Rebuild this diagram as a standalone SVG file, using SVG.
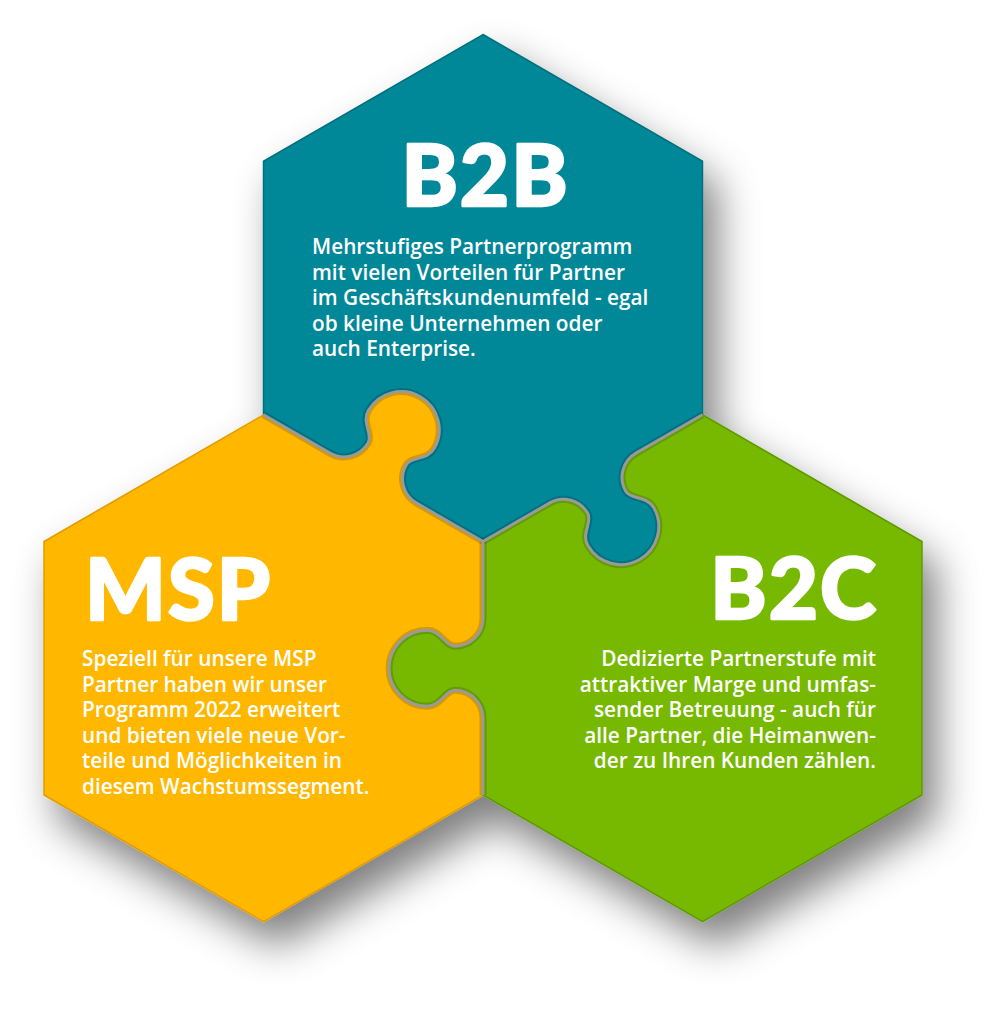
<svg xmlns="http://www.w3.org/2000/svg" xmlns:xlink="http://www.w3.org/1999/xlink" width="1000" height="1013" viewBox="0 0 1000 1013">
  <defs>
    <filter id="shadow" x="-20%" y="-20%" width="150%" height="150%">
      <feGaussianBlur in="SourceAlpha" stdDeviation="20"/>
      <feOffset dx="14" dy="24" result="b"/>
      <feFlood flood-color="#000" flood-opacity="0.5"/>
      <feComposite in2="b" operator="in" result="s"/>
      <feMerge><feMergeNode in="s"/><feMergeNode in="SourceGraphic"/></feMerge>
    </filter>
    <path id="seam" d="M -126.75 0 L -50 0 C -34.5 0 -22 -12.5 -22 -28 C -22 -38 -38 -42 -38 -56 A 38 38 0 0 1 38 -56 C 38 -42 22 -38 22 -28 C 22 -12.5 34.5 0 50 0 L 126.75 0"/>
    <path id="knob" d="M -50 0 C -34.5 0 -22 -12.5 -22 -28 C -22 -38 -38 -42 -38 -56 A 38 38 0 0 1 38 -56 C 38 -42 22 -38 22 -28 C 22 -12.5 34.5 0 50 0 L 50 5 L -50 5 Z"/>
  </defs>
  <style>
    .teal { fill: #008798; stroke: #00707e; stroke-width: 1.5; }
    .orange { fill: #FFB700; stroke: #E39C00; stroke-width: 1.5; }
    .green { fill: #76B900; stroke: #5E9A00; stroke-width: 1.5; }
    .seam-shade { fill: none; stroke: #000; stroke-opacity: 0.16; stroke-width: 7; stroke-linejoin: round; }
    .seam { fill: none; stroke: #9A9A9A; stroke-width: 3; stroke-linejoin: round; }
    .title { font-family: Lato, "Liberation Sans", sans-serif; font-weight: 900; font-size: 85px; fill: #fff; stroke: #fff; stroke-width: 2.5; stroke-linejoin: round; letter-spacing: 2px; }
    .body { font-family: "Open Sans", "Liberation Sans", sans-serif; font-weight: 600; font-size: 20.8px; fill: #fff; }
  </style>

  <g id="pieces" filter="url(#shadow)">
    <polygon id="hex-b2b" class="teal" points="483,34.5 702.5,161.25 702.5,414.75 483,541.5 263.5,414.75 263.5,161.25"/>
    <polygon id="hex-msp" class="orange" points="263.5,414.75 483,541.5 483,795 263.5,921.75 44,795 44,541.5"/>
    <polygon id="hex-b2c" class="green" points="702.5,414.75 922,541.5 922,795 702.5,921.75 483,795 483,541.5"/>
  </g>

  <g id="knobs">
    <use xlink:href="#knob" href="#knob" fill="#FFB700" transform="translate(373.25,478.1) rotate(30)"/>
    <use xlink:href="#knob" href="#knob" fill="#008798" transform="translate(592.75,478.1) rotate(150)"/>
    <use xlink:href="#knob" href="#knob" fill="#76B900" transform="translate(483,668.25) rotate(-90)"/>
  </g>

  <g id="connectors">
    <use xlink:href="#seam" href="#seam" class="seam-shade" transform="translate(373.25,478.1) rotate(30)"/>
    <use xlink:href="#seam" href="#seam" class="seam-shade" transform="translate(592.75,478.1) rotate(150)"/>
    <use xlink:href="#seam" href="#seam" class="seam-shade" transform="translate(483,668.25) rotate(-90)"/>
    <use xlink:href="#seam" href="#seam" class="seam" transform="translate(373.25,478.1) rotate(30)"/>
    <use xlink:href="#seam" href="#seam" class="seam" transform="translate(592.75,478.1) rotate(150)"/>
    <use xlink:href="#seam" href="#seam" class="seam" transform="translate(483,668.25) rotate(-90)"/>
  </g>

  <g id="node-b2b">
    <text class="title" x="485.5" y="206" text-anchor="middle">B2B</text>
    <text class="body" x="312" y="254"><tspan x="312" y="254">Mehrstufiges Partnerprogramm</tspan><tspan x="312" y="279.6">mit vielen Vorteilen für Partner</tspan><tspan x="312" y="305.2">im Geschäftskundenumfeld - egal</tspan><tspan x="312" y="330.8">ob kleine Unternehmen oder</tspan><tspan x="312" y="356.4">auch Enterprise.</tspan></text>
  </g>

  <g id="node-msp">
    <text class="title" x="85" y="620">MSP</text>
    <text class="body" x="82" y="666"><tspan x="82" y="666">Speziell für unsere MSP</tspan><tspan x="82" y="691.6">Partner haben wir unser</tspan><tspan x="82" y="717.2">Programm 2022 erweitert</tspan><tspan x="82" y="742.8">und bieten viele neue Vor-</tspan><tspan x="82" y="768.4">teile und Möglichkeiten in</tspan><tspan x="82" y="794">diesem Wachstumssegment.</tspan></text>
  </g>

  <g id="node-b2c">
    <text class="title" x="878" y="619" text-anchor="end">B2C</text>
    <text class="body" x="876" y="666" text-anchor="end"><tspan x="876" y="666">Dedizierte Partnerstufe mit</tspan><tspan x="876" y="691.6">attraktiver Marge und umfas-</tspan><tspan x="876" y="717.2">sender Betreuung - auch für</tspan><tspan x="876" y="742.8">alle Partner, die Heimanwen-</tspan><tspan x="876" y="768.4">der zu Ihren Kunden zählen.</tspan></text>
  </g>
</svg>
